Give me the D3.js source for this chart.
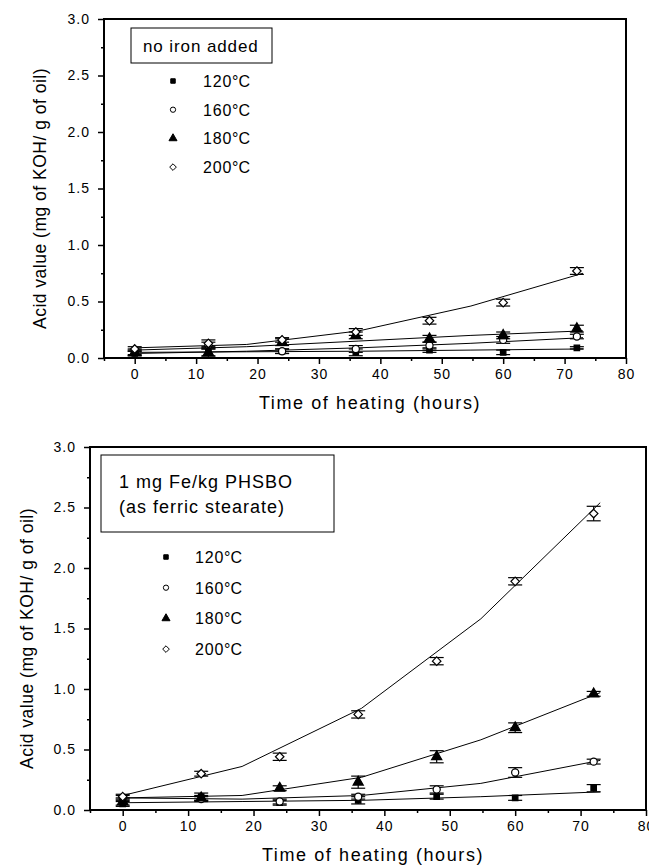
<!DOCTYPE html>
<html><head><meta charset="utf-8">
<script src="https://cdn.jsdelivr.net/npm/d3@7"></script>
<style>
body{margin:0;background:#fff;}
svg text{font-family:"Liberation Sans",Arial,Helvetica,sans-serif;fill:#000;}
</style></head>
<body><svg id="c" width="649" height="867"></svg>
<script>
// ---- data ----
const hours = [0, 12, 24, 36, 48, 60, 72];
const fitHours = [0, 18.25, 36.5, 54.75, 73];
const seriesNames = ["120", "160", "180", "200"];
const xTicks = [0, 10, 20, 30, 40, 50, 60, 70, 80];
const yTicks = [0.0, 0.5, 1.0, 1.5, 2.0, 2.5, 3.0];

// panel A: no iron added
const noIron120 = [0.04, 0.05, 0.06, 0.05, 0.07, 0.05, 0.09];
const noIron160 = [0.05, 0.11, 0.06, 0.08, 0.11, 0.16, 0.19];
const noIron180 = [0.05, 0.05, 0.14, 0.20, 0.17, 0.20, 0.26];
const noIron200 = [0.08, 0.13, 0.16, 0.23, 0.33, 0.49, 0.77];
const noIronErr120 = [0.02, 0.03, 0.02, 0.03, 0.02, 0.02, 0.01];
const noIronErr160 = [0.02, 0.03, 0.02, 0.03, 0.03, 0.03, 0.02];
const noIronErr180 = [0.03, 0.04, 0.03, 0.03, 0.03, 0.03, 0.03];
const noIronErr200 = [0.02, 0.03, 0.02, 0.03, 0.03, 0.03, 0.03];
const noIronFit120 = [0.05, 0.055, 0.06, 0.07, 0.08];
const noIronFit160 = [0.04, 0.06, 0.09, 0.13, 0.18];
const noIronFit180 = [0.07, 0.10, 0.15, 0.20, 0.24];
const noIronFit200 = [0.09, 0.12, 0.24, 0.46, 0.75];

// panel B: 1 mg Fe/kg
const fe120 = [0.05, 0.11, 0.06, 0.08, 0.11, 0.10, 0.18];
const fe160 = [0.10, 0.09, 0.07, 0.11, 0.17, 0.31, 0.40];
const fe180 = [0.07, 0.10, 0.18, 0.23, 0.44, 0.68, 0.96];
const fe200 = [0.11, 0.30, 0.44, 0.79, 1.23, 1.89, 2.45];
const feErr120 = [0.02, 0.03, 0.02, 0.03, 0.02, 0.02, 0.03];
const feErr160 = [0.02, 0.02, 0.02, 0.02, 0.03, 0.04, 0.02];
const feErr180 = [0.03, 0.02, 0.02, 0.05, 0.05, 0.04, 0.02];
const feErr200 = [0.02, 0.02, 0.03, 0.03, 0.03, 0.03, 0.06];
const feFit120 = [0.06, 0.07, 0.08, 0.11, 0.15];
const feFit160 = [0.10, 0.09, 0.12, 0.22, 0.41];
const feFit180 = [0.10, 0.12, 0.27, 0.58, 0.97];
const feFit200 = [0.12, 0.36, 0.84, 1.58, 2.54];

const svg = d3.select("#c");
const squareDiamond = {
  draw(ctx, size) {
    const r = Math.sqrt(size / 2);
    ctx.moveTo(0, -r); ctx.lineTo(r, 0); ctx.lineTo(0, r); ctx.lineTo(-r, 0); ctx.closePath();
  }
};
const symbolTypes = {"120": d3.symbolSquare, "160": d3.symbolCircle, "180": d3.symbolTriangle, "200": squareDiamond};
const symbolSizes = {"120": 30, "160": 40, "180": 45, "200": 36};
const legendSizes = {"120": 20, "160": 22, "180": 28, "200": 22};
const filled = {"120": true, "160": false, "180": true, "200": false};

function drawPanel(p) {
  const x = d3.scaleLinear().domain([-5, 80]).range([p.left, p.right]);
  const y = d3.scaleLinear().domain([0, 3]).range([p.bottom, p.top]);
  const g = svg.append("g");

  // frame
  g.append("rect").attr("x", p.left).attr("y", p.top)
    .attr("width", p.right - p.left).attr("height", p.bottom - p.top)
    .attr("fill", "none").attr("stroke", "#000").attr("stroke-width", 2);

  // x axis
  const xMinor = d3.range(-5, 81, 5).filter(v => v % 10 !== 0);
  g.append("g").attr("transform", `translate(0,${p.bottom})`)
    .call(d3.axisBottom(x).tickValues(xMinor).tickSize(3).tickFormat(""))
    .call(a => a.select(".domain").remove())
    .selectAll("line").attr("stroke-width", 1.5);
  const xa = g.append("g").attr("transform", `translate(0,${p.bottom})`)
    .call(d3.axisBottom(x).tickValues(xTicks).tickSize(6).tickPadding(5).tickFormat(d3.format("d")));
  xa.select(".domain").remove();
  xa.selectAll("line").attr("stroke-width", 1.5);
  xa.selectAll("text").attr("font-size", 14).attr("letter-spacing", 1)
    .attr("font-family", "Liberation Sans, Arial, sans-serif");

  // y axis
  const yMinor = d3.range(0.25, 3, 0.5);
  g.append("g").attr("transform", `translate(${p.left},0)`)
    .call(d3.axisLeft(y).tickValues(yMinor).tickSize(3).tickFormat(""))
    .call(a => a.select(".domain").remove())
    .selectAll("line").attr("stroke-width", 1.5);
  const ya = g.append("g").attr("transform", `translate(${p.left},0)`)
    .call(d3.axisLeft(y).tickValues(yTicks).tickSize(6).tickPadding(8).tickFormat(d3.format(".1f")));
  ya.select(".domain").remove();
  ya.selectAll("line").attr("stroke-width", 1.5);
  ya.selectAll("text").attr("font-size", 14).attr("letter-spacing", 1)
    .attr("font-family", "Liberation Sans, Arial, sans-serif");

  // axis titles
  g.append("text").attr("x", (p.left + p.right) / 2 + 5).attr("y", p.bottom + 51)
    .attr("text-anchor", "middle").attr("font-size", 18).attr("letter-spacing", 1.6)
    .text("Time of heating (hours)");
  g.append("text").attr("transform", `translate(${p.yTitleX},${(p.top + p.bottom) / 2 + 10}) rotate(-90)`)
    .attr("text-anchor", "middle").attr("font-size", 17.5).attr("letter-spacing", 0.5)
    .text("Acid value (mg of KOH/ g of oil)");

  const line = d3.line().x(d => x(d[0])).y(d => y(d[1]));

  // fit lines
  p.series.forEach(s => {
    g.append("path").datum(fitHours.map((h, i) => [h, s.fit[i]]))
      .attr("d", line).attr("fill", "none").attr("stroke", "#000").attr("stroke-width", 1);
  });

  // error bars + markers
  p.series.forEach(s => {
    const pts = hours.map((h, i) => ({h, v: s.values[i], e: s.err[i]}));
    const eg = g.append("g").attr("stroke", "#000").attr("stroke-width", 1.2);
    pts.forEach(d => {
      eg.append("line").attr("x1", x(d.h)).attr("x2", x(d.h))
        .attr("y1", y(d.v - d.e)).attr("y2", y(d.v + d.e));
      [d.v - d.e, d.v + d.e].forEach(v => {
        eg.append("line").attr("x1", x(d.h) - 7).attr("x2", x(d.h) + 7)
          .attr("y1", y(v)).attr("y2", y(v));
      });
    });
    g.append("g").selectAll("path").data(pts).join("path")
      .attr("transform", d => `translate(${x(d.h)},${y(d.v)})`)
      .attr("d", d3.symbol().type(symbolTypes[s.name]).size(symbolSizes[s.name]))
      .attr("fill", filled[s.name] ? "#000" : "#fff")
      .attr("stroke", "#000").attr("stroke-width", 1.2);
  });

  // legend title box
  g.append("rect").attr("x", p.box.x).attr("y", p.box.y).attr("width", p.box.w).attr("height", p.box.h)
    .attr("fill", "#fff").attr("stroke", "#000").attr("stroke-width", 1);
  p.box.lines.forEach((t, i) => {
    g.append("text").attr("x", p.box.tx).attr("y", p.box.ty + i * 25)
      .attr("font-size", p.box.fs).attr("letter-spacing", p.box.ls).text(t);
  });

  // legend entries
  seriesNames.forEach((n, i) => {
    const ly = p.leg.y0 + i * p.leg.dy;
    g.append("path").attr("transform", `translate(${p.leg.mx},${ly})`)
      .attr("d", d3.symbol().type(symbolTypes[n]).size(legendSizes[n])())
      .attr("fill", filled[n] ? "#000" : "#fff").attr("stroke", "#000").attr("stroke-width", 1);
    const t = g.append("text").attr("x", p.leg.tx).attr("y", ly + 6)
      .attr("font-size", 16).attr("letter-spacing", 0.8);
    t.append("tspan").text(n);
    t.append("tspan").attr("letter-spacing", 0).text("°");
    t.append("tspan").text("C");
  });
}

drawPanel({
  left: 104, right: 626, top: 19, bottom: 358, yTitleX: 46,
  series: [
    {name: "120", values: noIron120, err: noIronErr120, fit: noIronFit120},
    {name: "160", values: noIron160, err: noIronErr160, fit: noIronFit160},
    {name: "180", values: noIron180, err: noIronErr180, fit: noIronFit180},
    {name: "200", values: noIron200, err: noIronErr200, fit: noIronFit200}
  ],
  box: {x: 131, y: 28, w: 141, h: 35, tx: 143, ty: 52, fs: 17, ls: 0.9, lines: ["no iron added"]},
  leg: {mx: 173, tx: 203, y0: 81, dy: 28.7}
});

drawPanel({
  left: 90, right: 646, top: 447, bottom: 810, yTitleX: 33,
  series: [
    {name: "120", values: fe120, err: feErr120, fit: feFit120},
    {name: "160", values: fe160, err: feErr160, fit: feFit160},
    {name: "180", values: fe180, err: feErr180, fit: feFit180},
    {name: "200", values: fe200, err: feErr200, fit: feFit200}
  ],
  box: {x: 101, y: 455, w: 233, h: 77, tx: 119, ty: 488, fs: 18, ls: 1.0, lines: ["1 mg Fe/kg PHSBO", "(as ferric stearate)"]},
  leg: {mx: 166, tx: 195, y0: 557, dy: 30.7}
});
</script></body></html>
